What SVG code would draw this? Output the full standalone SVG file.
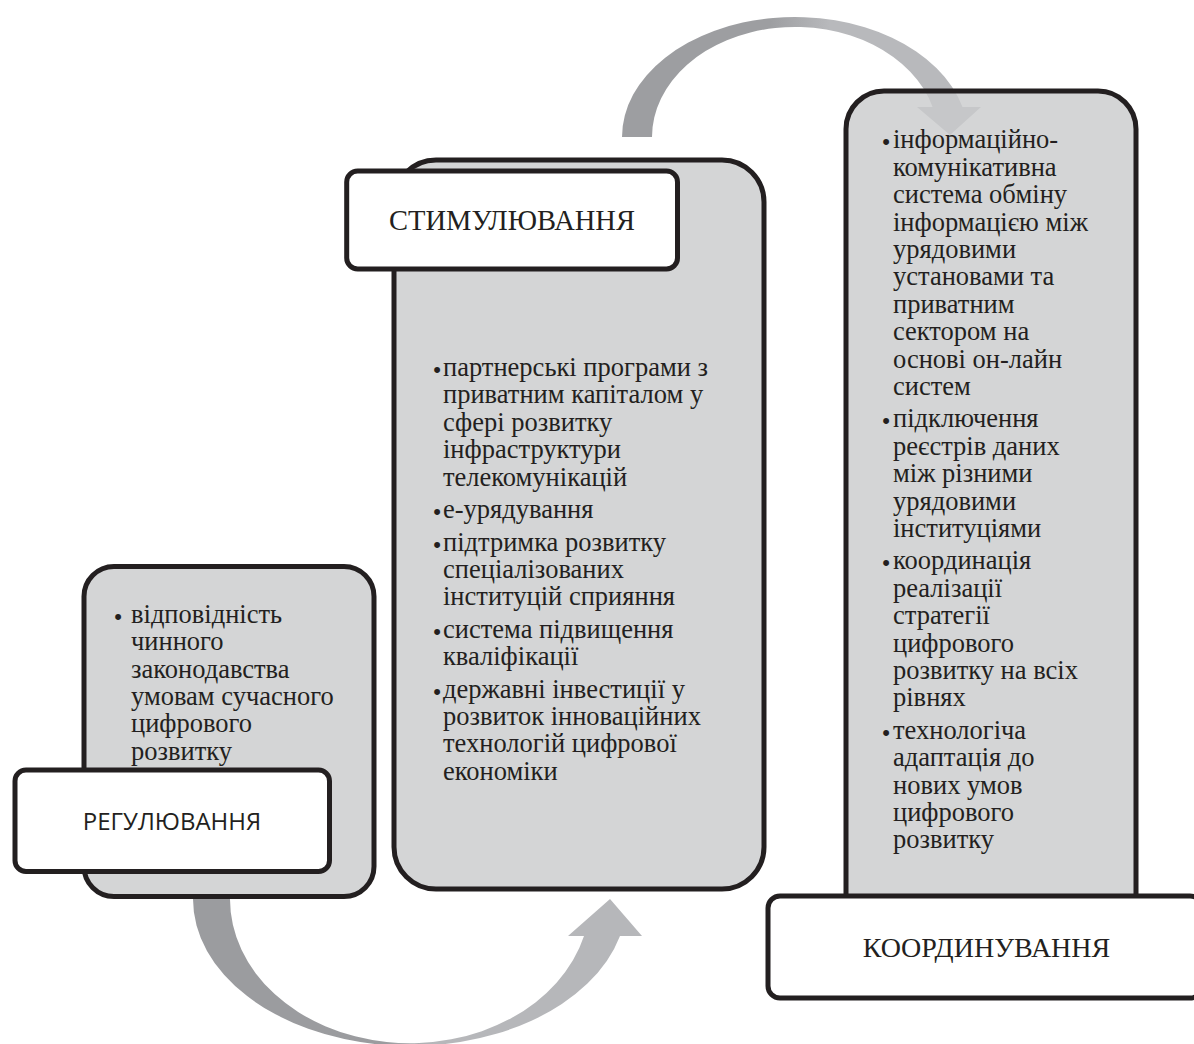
<svg xmlns="http://www.w3.org/2000/svg" width="1194" height="1044" viewBox="0 0 1194 1044">
<style>
.grey{fill:#c9cacc;fill-opacity:0.8;stroke:#231f20;stroke-width:5}
.white{fill:#ffffff;stroke:#231f20;stroke-width:5}
.body{font-family:"Liberation Serif","Times New Roman",serif;font-size:26.5px;fill:#231f20}
.bul{font-family:"Liberation Sans",Arial,sans-serif;font-size:22px;fill:#231f20;text-anchor:middle}
.title{font-family:"Liberation Serif","Times New Roman",serif;font-size:28.5px;fill:#231f20;text-anchor:middle}
.stitle{font-family:"Open Sans","Liberation Sans",sans-serif;font-size:24px;fill:#231f20;text-anchor:middle}
</style>
<defs>
<linearGradient id="gBottom" gradientUnits="userSpaceOnUse" x1="385" y1="0" x2="435" y2="0">
<stop offset="0" stop-color="#9b9c9f"/>
<stop offset="1" stop-color="#b6b7ba"/>
</linearGradient>
<linearGradient id="gTop" gradientUnits="userSpaceOnUse" x1="770" y1="0" x2="830" y2="0">
<stop offset="0" stop-color="#9d9ea1"/>
<stop offset="1" stop-color="#b8b9bc"/>
</linearGradient>
</defs>
<rect width="1194" height="1044" fill="#ffffff"/>
<g id="connectors">
<path id="arrow-bottom" fill="url(#gBottom)" d="M193,899 A217,147 0 0,0 620,936 L642,936 L610,899 L568,936 L584,936 A180,144 0 0,1 230,899 Z"/>
<path id="arrow-top" fill="url(#gTop)" d="M622,137 A173,120 0 0,1 962.5,107 L981,107 L950,135 L917,107 L932.6,107 A143,110 0 0,0 652,137 Z"/>
</g>
<g id="node-regulation">
<rect class="grey" x="84" y="566.5" width="290" height="330" rx="30"/>
<text class="bul" x="118" y="624">•</text>
<text class="body">
<tspan x="131" y="623">відповідність</tspan>
<tspan x="131" y="650.3">чинного</tspan>
<tspan x="131" y="677.6">законодавства</tspan>
<tspan x="131" y="704.9">умовам сучасного</tspan>
<tspan x="131" y="732.2">цифрового</tspan>
<tspan x="131" y="759.5">розвитку</tspan>
</text>
<rect class="white" x="15" y="770" width="314.5" height="101.5" rx="11"/>
<text class="stitle" x="172" y="830">РЕГУЛЮВАННЯ</text>
</g>
<g id="node-stimulation">
<rect class="grey" x="394" y="160" width="370" height="729" rx="42"/>
<g class="bul">
<text x="437" y="377">•</text>
<text x="437" y="519">•</text>
<text x="437" y="551.5">•</text>
<text x="437" y="638.8">•</text>
<text x="437" y="698.6">•</text>
</g>
<text class="body">
<tspan x="443" y="376">партнерські програми з</tspan>
<tspan x="443" y="403.4">приватним капіталом у</tspan>
<tspan x="443" y="430.8">сфері розвитку</tspan>
<tspan x="443" y="458.2">інфраструктури</tspan>
<tspan x="443" y="485.6">телекомунікацій</tspan>
<tspan x="443" y="518">е-урядування</tspan>
<tspan x="443" y="550.5">підтримка розвитку</tspan>
<tspan x="443" y="577.9">спеціалізованих</tspan>
<tspan x="443" y="605.3">інституцій сприяння</tspan>
<tspan x="443" y="637.8">система підвищення</tspan>
<tspan x="443" y="665.2">кваліфікації</tspan>
<tspan x="443" y="697.6">державні інвестиції у</tspan>
<tspan x="443" y="725">розвиток інноваційних</tspan>
<tspan x="443" y="752.4">технологій цифрової</tspan>
<tspan x="443" y="779.8">економіки</tspan>
</text>
<rect class="white" x="346.7" y="171" width="330.8" height="98" rx="11"/>
<text class="title" x="512" y="230">СТИМУЛЮВАННЯ</text>
</g>
<g id="node-coordination">
<rect class="grey" x="846" y="91" width="290" height="880" rx="38"/>
<g class="bul">
<text x="886" y="149.3">•</text>
<text x="886" y="428.3">•</text>
<text x="886" y="570.3">•</text>
<text x="886" y="739.7">•</text>
</g>
<text class="body">
<tspan x="893" y="148.3">інформаційно-</tspan>
<tspan x="893" y="175.7">комунікативна</tspan>
<tspan x="893" y="203.1">система обміну</tspan>
<tspan x="893" y="230.5">інформацією між</tspan>
<tspan x="893" y="257.9">урядовими</tspan>
<tspan x="893" y="285.3">установами та</tspan>
<tspan x="893" y="312.7">приватним</tspan>
<tspan x="893" y="340.1">сектором на</tspan>
<tspan x="893" y="367.5">основі он-лайн</tspan>
<tspan x="893" y="394.9">систем</tspan>
<tspan x="893" y="427.3">підключення</tspan>
<tspan x="893" y="454.7">реєстрів даних</tspan>
<tspan x="893" y="482.1">між різними</tspan>
<tspan x="893" y="509.5">урядовими</tspan>
<tspan x="893" y="536.9">інституціями</tspan>
<tspan x="893" y="569.3">координація</tspan>
<tspan x="893" y="596.7">реалізації</tspan>
<tspan x="893" y="624.1">стратегії</tspan>
<tspan x="893" y="651.5">цифрового</tspan>
<tspan x="893" y="678.9">розвитку на всіх</tspan>
<tspan x="893" y="706.3">рівнях</tspan>
<tspan x="893" y="738.7">технологіча</tspan>
<tspan x="893" y="766.1">адаптація до</tspan>
<tspan x="893" y="793.5">нових умов</tspan>
<tspan x="893" y="820.9">цифрового</tspan>
<tspan x="893" y="848.3">розвитку</tspan>
</text>
<rect class="white" x="768" y="896" width="434" height="102" rx="12"/>
<text class="title" style="font-size:28px" x="986.5" y="957">КООРДИНУВАННЯ</text>
</g>
</svg>
